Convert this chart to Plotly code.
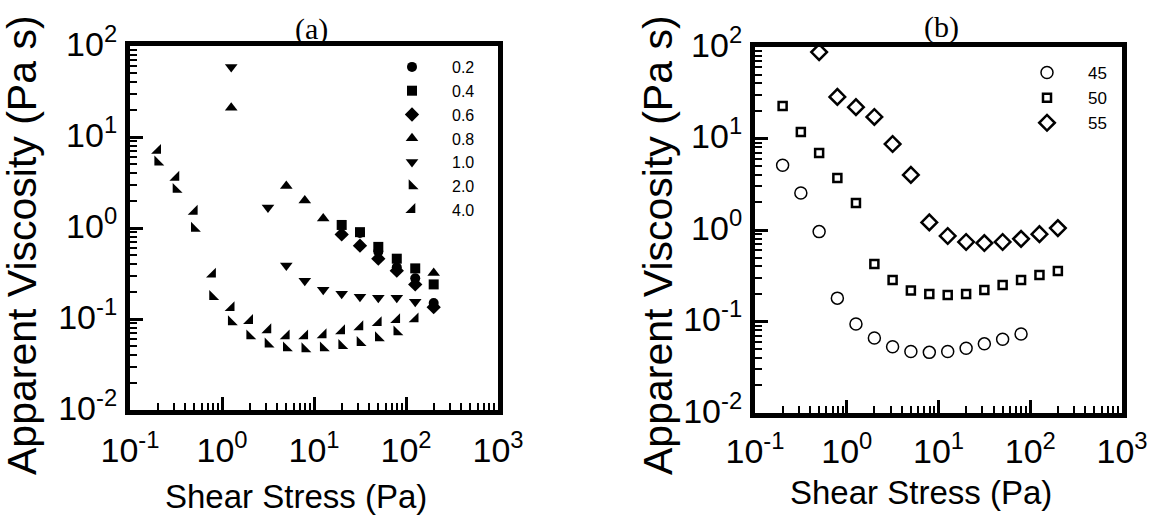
import plotly.graph_objects as go

# ---------------- Data: panel (a) ----------------
x_02 = [31.6, 50, 79.4, 126, 200]
y_02 = [0.88, 0.55, 0.37, 0.28, 0.15]

x_04 = [20, 31.6, 50, 79.4, 126, 200]
y_04 = [1.08, 0.9, 0.62, 0.46, 0.36, 0.24]

x_06 = [20, 31.6, 50, 79.4, 126, 200]
y_06 = [0.85, 0.64, 0.46, 0.34, 0.24, 0.135]

x_08 = [1.26, 5.0, 7.94, 12.6, 200]
y_08 = [21, 2.9, 2.0, 1.27, 0.32]

x_10 = [1.26, 3.16, 5.0, 7.94, 12.6, 20, 31.6, 50, 79.4, 126]
y_10 = [58.7, 1.68, 0.386, 0.264, 0.21, 0.19, 0.176, 0.171, 0.171, 0.155]

x_20 = [0.2, 0.316, 0.5, 0.79, 1.26, 2.0, 3.16, 5.0, 7.94, 12.6, 20, 31.6, 50, 79.4]
y_20 = [5.3, 2.65, 0.99, 0.176, 0.093, 0.065, 0.053, 0.048, 0.047, 0.048, 0.051, 0.055, 0.062, 0.072]

x_40 = [0.2, 0.316, 0.5, 0.79, 1.26, 2.0, 3.16, 5.0, 7.94, 12.6, 20, 31.6, 50, 79.4, 126]
y_40 = [7.1, 3.6, 1.52, 0.31, 0.133, 0.096, 0.076, 0.065, 0.065, 0.067, 0.074, 0.082, 0.091, 0.098, 0.10]

labels_a = ["0.2", "0.4", "0.6", "0.8", "1.0", "2.0", "4.0"]

# ---------------- Data: panel (b) ----------------
x_45 = [0.2, 0.316, 0.5, 0.79, 1.26, 2.0, 3.16, 5.0, 7.94, 12.6, 20, 31.6, 50, 79.4]
y_45 = [5.1, 2.54, 0.96, 0.18, 0.094, 0.066, 0.053, 0.047, 0.046, 0.047, 0.051, 0.057, 0.064, 0.073]

x_50 = [0.2, 0.316, 0.5, 0.79, 1.26, 2.0, 3.16, 5.0, 7.94, 12.6, 20, 31.6, 50, 79.4, 126, 200]
y_50 = [22.6, 11.8, 6.95, 3.7, 1.97, 0.425, 0.284, 0.218, 0.2, 0.195, 0.2, 0.221, 0.25, 0.284, 0.322, 0.356]

x_55 = [0.5, 0.79, 1.26, 2.0, 3.16, 5.0, 7.94, 12.6, 20, 31.6, 50, 79.4, 126, 200]
y_55 = [88, 28.5, 22, 17.2, 8.7, 4.0, 1.21, 0.86, 0.74, 0.72, 0.74, 0.80, 0.90, 1.05]

labels_b = ["45", "50", "55"]

# tick labels and titles
x_tickvals = [0.1, 1, 10, 100, 1000]
x_ticktext = ["10<sup>-1</sup>", "10<sup>0</sup>", "10<sup>1</sup>", "10<sup>2</sup>", "10<sup>3</sup>"]
y_tickvals = [0.01, 0.1, 1, 10, 100]
y_ticktext = ["10<sup>-2</sup>", "10<sup>-1</sup>", "10<sup>0</sup>", "10<sup>1</sup>", "10<sup>2</sup>"]
x_title = "Shear Stress (Pa)"
y_title = "Apparent Viscosity (Pa s)"
panel_titles = ["(a)", "(b)"]

FONT = "Arial, Liberation Sans, sans-serif"
SERIF = "Times New Roman, Liberation Serif, serif"
W, H = 1151, 517

fig = go.Figure()

series_a = [
    (x_02, y_02, "circle", 10),
    (x_04, y_04, "square", 10),
    (x_06, y_06, "diamond", 11),
    (x_08, y_08, "triangle-up", 11),
    (x_10, y_10, "triangle-down", 11),
    (x_20, y_20, "triangle-sw", 11),
    (x_40, y_40, "triangle-se", 11),
]
for (xs, ys, sym, sz), lab in zip(series_a, labels_a):
    fig.add_trace(go.Scatter(x=xs, y=ys, mode="markers", name=lab,
                             marker=dict(symbol=sym, size=sz, color="black"),
                             xaxis="x", yaxis="y", legend="legend"))

series_b = [
    (x_45, y_45, "circle-open", 12, 1.5),
    (x_50, y_50, "square-open", 8, 2.5),
    (x_55, y_55, "diamond-open", 12, 2.5),
]
for (xs, ys, sym, sz, lw), lab in zip(series_b, labels_b):
    fig.add_trace(go.Scatter(x=xs, y=ys, mode="markers", name=lab,
                             marker=dict(symbol=sym, size=sz, color="black",
                                         line=dict(width=lw, color="black")),
                             xaxis="x2", yaxis="y2", legend="legend2"))

minor_vals = [k * 10.0 ** e for e in range(-3, 4) for k in range(2, 10)]


def xaxis_style(domain, anchor, standoff):
    return dict(type="log", range=[-1, 3], domain=domain, anchor=anchor, automargin=False,
                showline=True, linewidth=5, linecolor="black", mirror=True,
                ticks="inside", ticklen=13, tickwidth=3, tickcolor="black",
                tickvals=x_tickvals, ticktext=x_ticktext, ticklabelstandoff=standoff,
                tickfont=dict(family=FONT, size=34, color="black"),
                minor=dict(ticks="inside", ticklen=7, tickwidth=2, tickcolor="black",
                           tickvals=minor_vals, showgrid=False),
                showgrid=False, zeroline=False)


def yaxis_style(domain, anchor):
    return dict(type="log", range=[-2, 2], domain=domain, anchor=anchor, automargin=False,
                showline=True, linewidth=5, linecolor="black", mirror=True,
                ticks="inside", ticklen=13, tickwidth=3, tickcolor="black",
                tickvals=y_tickvals, ticktext=y_ticktext,
                tickfont=dict(family=FONT, size=34, color="black"),
                minor=dict(ticks="inside", ticklen=7, tickwidth=2, tickcolor="black",
                           tickvals=minor_vals, showgrid=False),
                showgrid=False, zeroline=False, ticklabelstandoff=1, ticklabelshift=-2)


def ann(text, xpx, ypx, size, family=FONT, angle=0):
    return dict(text=text, x=xpx / W, y=1 - ypx / H, xref="paper", yref="paper",
                xanchor="center", yanchor="middle", showarrow=False, textangle=angle,
                font=dict(family=family, size=size, color="black"))


fig.update_layout(
    width=W, height=H,
    margin=dict(l=0, r=0, t=0, b=0, pad=0, autoexpand=False),
    paper_bgcolor="white", plot_bgcolor="white",
    font=dict(family=FONT, color="black"),
    xaxis=xaxis_style([130 / W, 498 / W], "y", 6),
    yaxis=yaxis_style([1 - 410 / H, 1 - 46 / H], "x"),
    xaxis2=xaxis_style([755 / W, 1122 / W], "y2", 4),
    yaxis2=yaxis_style([1 - 413 / H, 1 - 47 / H], "x2"),
    legend=dict(x=372 / W, y=1 - 50 / H, xanchor="left", yanchor="top",
                bgcolor="rgba(0,0,0,0)", itemwidth=70, tracegroupgap=0,
                font=dict(family=FONT, size=16, color="black")),
    legend2=dict(x=1006 / W, y=1 - 55 / H, xanchor="left", yanchor="top",
                 bgcolor="rgba(0,0,0,0)", itemwidth=72, tracegroupgap=0,
                 font=dict(family=FONT, size=17, color="black")),
    annotations=[
        ann(panel_titles[0], 311, 29, 30, SERIF),
        ann(panel_titles[1], 941, 27, 30, SERIF),
        ann(x_title, 296, 496, 33),
        ann(x_title, 921, 492, 33),
        ann(y_title, 22, 245, 41, angle=-90),
        ann(y_title, 658, 245, 41, angle=-90),
    ],
)

fig.write_html("out.html")
